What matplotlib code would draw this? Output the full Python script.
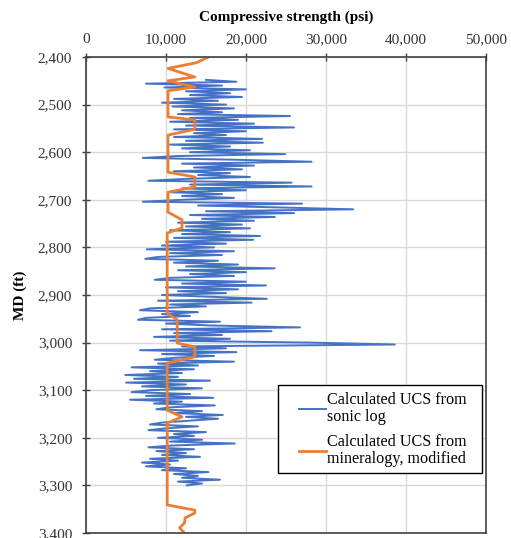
import numpy as np
import matplotlib.pyplot as plt
from matplotlib.patches import Rectangle

# sonic log UCS (psi), read every 4 ft from 2448 to 3300 ft
sonic_depth = np.arange(2448, 3304, 4)
sonic_ucs = [
    # 2448-2496
    15000, 18800, 7500, 17000, 9800, 20000, 12500, 18000, 13000, 19500, 11000, 16500, 9500,
    # 2500-2596
    17500, 10800, 18500, 12000, 17000, 11500, 25500, 13000, 19000, 10500, 21000, 12500, 26000,
    11000, 20000, 13500, 17500, 11000, 22000, 12500, 22100, 10500, 18000, 12000, 20500,
    # 2600-2696
    13000, 24900, 11500, 7100, 19000, 28200, 12000, 21000, 13500, 19500, 11000, 18000, 14000,
    20500, 12500, 7800, 25700, 13000, 28200, 12000, 20000, 10500, 17000, 12000, 18500,
    # 2700-2796
    12000, 7100, 27000, 14000, 24000, 33400, 15000, 26000, 13000, 23600, 14500, 21000, 11500,
    19500, 12500, 20500, 10500, 18000, 12000, 21750, 11000, 20900, 10000, 17500, 9500,
    # 2800-2896
    16000, 7600, 18500, 10500, 17000, 9000, 7400, 16500, 11000, 19000, 12500, 23600, 11500,
    20000, 13000, 18500, 10500, 8600, 20000, 12000, 22500, 10000, 19000, 11500, 17500,
    # 2900-2996
    9500, 16000, 22600, 9000, 20700, 10500, 15000, 8000, 6750, 14000, 9500, 13000, 7500,
    6500, 16750, 10000, 15500, 26750, 9500, 23200, 11000, 17000, 8500, 18000, 10500,
    # 3000-3096
    28000, 38600, 12000, 17500, 6750, 18800, 9500, 16000, 11000, 8600, 18500, 9000, 14000,
    5700, 13500, 8000, 12000, 4900, 11500, 6000, 15500, 5000, 12500, 7000, 14500,
    # 3100-3196
    8000, 5700, 13000, 7500, 15900, 5500, 12000, 8500, 16100, 10500, 8800, 14500, 11000,
    17100, 12500, 16500, 13000, 9500, 8000, 14000, 10000, 7800, 15000, 11000, 13500,
    # 3200-3300
    9000, 14500, 10500, 18600, 11000, 7800, 13500, 8800, 12500, 9500, 14250, 8000, 11500,
    7000, 10500, 7500, 12500, 9500, 15300, 11000, 14000, 12000, 16750, 11500, 14500, 12600,
]

# mineralogy based UCS, modified
min_depth = [2400, 2412, 2424, 2442, 2450, 2463, 2471, 2526, 2532, 2552, 2564, 2642, 2652,
             2673, 2684, 2726, 2742, 2759, 2770, 2938, 2952, 3001, 3009, 3030, 3043, 3142,
             3156, 3169, 3341, 3352, 3358, 3368, 3379, 3389, 3400]
min_ucs = [15300, 13800, 10250, 13600, 10250, 13600, 10250, 10250, 13600, 13600, 10250,
           10250, 13600, 13600, 10250, 10250, 12000, 12000, 10150, 10150, 11400, 11400,
           13600, 13600, 10150, 10150, 12000, 10150, 10150, 13600, 13600, 12400, 12300,
           11700, 12300]

x_ticks = [0, 10000, 20000, 30000, 40000, 50000]
y_ticks = list(range(2400, 3401, 100))

plt.rcParams['font.family'] = ['Liberation Serif', 'DejaVu Serif']

fig = plt.figure(figsize=(5.11, 5.38), dpi=100)
ax = fig.add_axes([86 / 511, 1 - 533 / 538, 400 / 511, 476 / 538])

ax.plot(sonic_ucs, sonic_depth, color='#4472C4', lw=1.4,
        label='Calculated UCS from\nsonic log')
ax.plot(min_ucs, min_depth, color='#ED7D31', lw=2.0,
        label='Calculated UCS from\nmineralogy, modified')

ax.set_xlim(0, 50000)
ax.set_ylim(3400, 2400)
ax.set_xticks(x_ticks)
ax.set_yticks(y_ticks)
ax.set_xticklabels([f'{v:,}' for v in x_ticks])
ax.set_yticklabels([f'{v:,}' for v in y_ticks])
ax.xaxis.tick_top()
ax.xaxis.set_label_position('top')
ax.tick_params(direction='inout', length=6, width=1, colors='#404040',
               labelcolor='#333333', labelsize=11)
ax.tick_params(axis='x', pad=5)
ax.tick_params(axis='y', pad=7)

ax.set_xlabel('Compressive strength (psi)', fontweight='bold', fontsize=11, labelpad=9)
ax.set_ylabel('MD (ft)', fontweight='bold', fontsize=11, labelpad=8)

ax.grid(True, color='#D9D9D9', lw=1)
ax.set_axisbelow(True)
for s in ax.spines.values():
    s.set_color('#404040')
    s.set_linewidth(1.2)

# legend box drawn separately (wider side margins than matplotlib's padding)
ax.add_patch(Rectangle((0.48, 0.126), 0.51, 0.185, transform=ax.transAxes,
                       facecolor='white', edgecolor='black', lw=1.0, zorder=4))
leg = ax.legend(loc='upper left', bbox_to_anchor=(0.5325, 0.297), fontsize=11.6,
                frameon=False, borderpad=0, borderaxespad=0,
                handlelength=1.65, handletextpad=0.1, labelspacing=0.55)
leg.set_zorder(5)
for t in leg.get_texts():
    t.set_linespacing(1.1)

fig.savefig('out.png', dpi=100)
